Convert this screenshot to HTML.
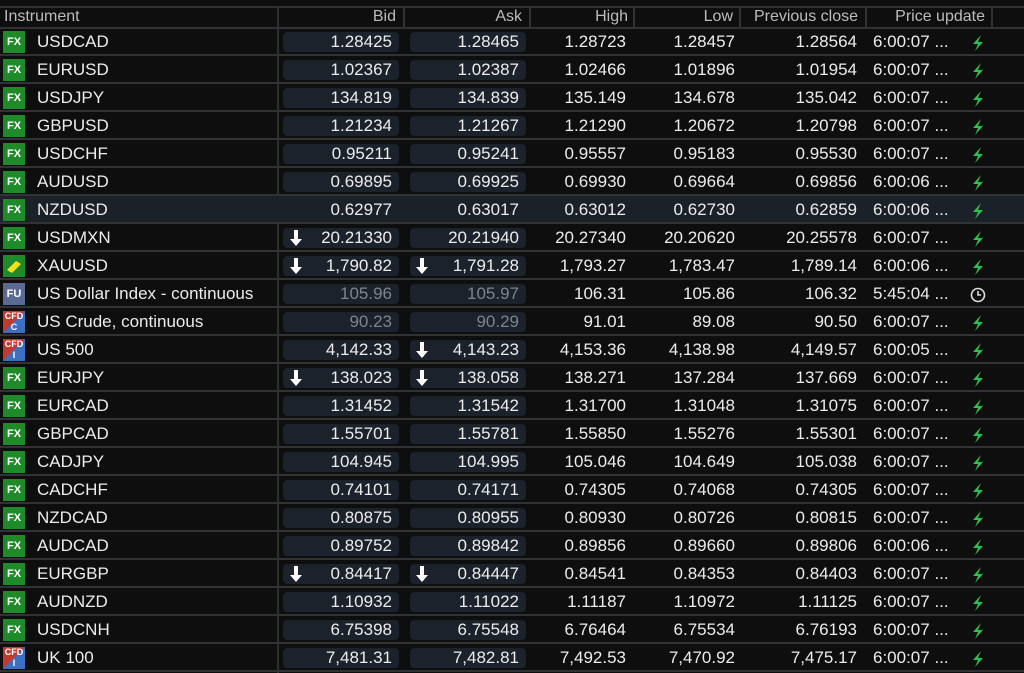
<!DOCTYPE html>
<html><head><meta charset="utf-8"><style>
*{margin:0;padding:0;box-sizing:border-box}
body{width:1024px;height:673px;background:#0e0e0f;overflow:hidden;font-family:"Liberation Sans",sans-serif;color:#ececec;position:relative}
.hdr{position:absolute;left:0;top:6px;width:1024px;height:23px;border-top:2px solid #303236;border-bottom:2px solid #303236;font-size:16px;color:#bcbcbc}
.hdr span{position:absolute;top:0px}
.hs{position:absolute;top:0;width:2px;height:19px;background:#303236}
.vl{position:absolute;left:277px;top:6px;width:2px;height:667px;background:#2c2e32}
.r{position:absolute;left:0;width:1024px;height:28px;border-bottom:2px solid #303236;font-size:17px}
.r.sel{background:#1b2129}
.r span{position:absolute;top:4px;white-space:nowrap}
.ic{position:absolute;left:3px;top:3px;width:22px;height:22px;font-size:11px;font-weight:bold;text-align:center;line-height:22px;color:#fff}
.fx{background:#1f8a2a}
.fu{background:#5a6a90}
.cfd{background:linear-gradient(135deg,#c23a2e 50%,#3d6fc0 50%);font-size:9px;line-height:11px}
.au{background:#1f8a2a}
.nm{left:37px}
.box{position:absolute;top:4px;height:20px;background:#1b222b;border-radius:4px}
.b1{left:283px;width:116px}.b2{left:410px;width:116px}
.sel .box{background:transparent}
.v1{right:632px}.v2{right:505px}.v3{right:398px}.v4{right:289px}.v5{right:167px}.tm{left:873px}
.dim{color:#7d848c}
.ar{position:absolute;top:6px}
.a1{left:289px}.a2{left:415px}
.bolt{position:absolute;left:971px;top:7px}
</style></head><body>
<svg width="0" height="0" style="position:absolute"><defs>
<symbol id="dn" viewBox="0 0 14 16"><path d="M5 0h4v9h4l-6 7-6-7h4z" fill="#fff"/></symbol>
<symbol id="bt" viewBox="0 0 14 16"><path d="M10 0L2 9h5l-3 7 8-9H7z" fill="#2fbf4a"/></symbol>
</defs></svg>
<div class="hdr">
<span style="left:4px">Instrument</span>
<span style="right:628px">Bid</span><span style="right:502px">Ask</span><span style="right:396px">High</span><span style="right:291px">Low</span><span style="right:166px">Previous close</span><span style="right:39px">Price update</span>
<div class="hs" style="left:403px"></div><div class="hs" style="left:529px"></div><div class="hs" style="left:633px"></div><div class="hs" style="left:739px"></div><div class="hs" style="left:865px"></div><div class="hs" style="left:991px"></div>
</div>
<div class="vl"></div>

<div class="r" style="top:28px"><div class="ic fx">FX</div><span class="nm">USDCAD</span><div class="box b1"></div><div class="box b2"></div><span class="v1">1.28425</span><span class="v2">1.28465</span><span class="v3">1.28723</span><span class="v4">1.28457</span><span class="v5">1.28564</span><span class="tm">6:00:07 ...</span><svg class="bolt" width="14" height="16"><use href="#bt"/></svg></div>
<div class="r" style="top:56px"><div class="ic fx">FX</div><span class="nm">EURUSD</span><div class="box b1"></div><div class="box b2"></div><span class="v1">1.02367</span><span class="v2">1.02387</span><span class="v3">1.02466</span><span class="v4">1.01896</span><span class="v5">1.01954</span><span class="tm">6:00:07 ...</span><svg class="bolt" width="14" height="16"><use href="#bt"/></svg></div>
<div class="r" style="top:84px"><div class="ic fx">FX</div><span class="nm">USDJPY</span><div class="box b1"></div><div class="box b2"></div><span class="v1">134.819</span><span class="v2">134.839</span><span class="v3">135.149</span><span class="v4">134.678</span><span class="v5">135.042</span><span class="tm">6:00:07 ...</span><svg class="bolt" width="14" height="16"><use href="#bt"/></svg></div>
<div class="r" style="top:112px"><div class="ic fx">FX</div><span class="nm">GBPUSD</span><div class="box b1"></div><div class="box b2"></div><span class="v1">1.21234</span><span class="v2">1.21267</span><span class="v3">1.21290</span><span class="v4">1.20672</span><span class="v5">1.20798</span><span class="tm">6:00:07 ...</span><svg class="bolt" width="14" height="16"><use href="#bt"/></svg></div>
<div class="r" style="top:140px"><div class="ic fx">FX</div><span class="nm">USDCHF</span><div class="box b1"></div><div class="box b2"></div><span class="v1">0.95211</span><span class="v2">0.95241</span><span class="v3">0.95557</span><span class="v4">0.95183</span><span class="v5">0.95530</span><span class="tm">6:00:07 ...</span><svg class="bolt" width="14" height="16"><use href="#bt"/></svg></div>
<div class="r" style="top:168px"><div class="ic fx">FX</div><span class="nm">AUDUSD</span><div class="box b1"></div><div class="box b2"></div><span class="v1">0.69895</span><span class="v2">0.69925</span><span class="v3">0.69930</span><span class="v4">0.69664</span><span class="v5">0.69856</span><span class="tm">6:00:06 ...</span><svg class="bolt" width="14" height="16"><use href="#bt"/></svg></div>
<div class="r sel" style="top:196px"><div class="ic fx">FX</div><span class="nm">NZDUSD</span><div class="box b1"></div><div class="box b2"></div><span class="v1">0.62977</span><span class="v2">0.63017</span><span class="v3">0.63012</span><span class="v4">0.62730</span><span class="v5">0.62859</span><span class="tm">6:00:06 ...</span><svg class="bolt" width="14" height="16"><use href="#bt"/></svg></div>
<div class="r" style="top:224px"><div class="ic fx">FX</div><span class="nm">USDMXN</span><div class="box b1"></div><div class="box b2"></div><svg class="ar a1" width="14" height="16"><use href="#dn"/></svg><span class="v1">20.21330</span><span class="v2">20.21940</span><span class="v3">20.27340</span><span class="v4">20.20620</span><span class="v5">20.25578</span><span class="tm">6:00:07 ...</span><svg class="bolt" width="14" height="16"><use href="#bt"/></svg></div>
<div class="r" style="top:252px"><div class="ic au"><svg width="22" height="22"><path d="M4 15l9-9 5 3-9 9z" fill="#f2e21c"/></svg></div><span class="nm">XAUUSD</span><div class="box b1"></div><div class="box b2"></div><svg class="ar a1" width="14" height="16"><use href="#dn"/></svg><svg class="ar a2" width="14" height="16"><use href="#dn"/></svg><span class="v1">1,790.82</span><span class="v2">1,791.28</span><span class="v3">1,793.27</span><span class="v4">1,783.47</span><span class="v5">1,789.14</span><span class="tm">6:00:06 ...</span><svg class="bolt" width="14" height="16"><use href="#bt"/></svg></div>
<div class="r" style="top:280px"><div class="ic fu">FU</div><span class="nm">US Dollar Index - continuous</span><div class="box b1"></div><div class="box b2"></div><span class="v1 dim">105.96</span><span class="v2 dim">105.97</span><span class="v3">106.31</span><span class="v4">105.86</span><span class="v5">106.32</span><span class="tm">5:45:04 ...</span><svg class="bolt" width="16" height="16" viewBox="0 0 16 16" style="left:970px"><circle cx="8" cy="8" r="6.5" fill="none" stroke="#ddd" stroke-width="1.6"/><path d="M8 4v4h3" fill="none" stroke="#ddd" stroke-width="1.6"/></svg></div>
<div class="r" style="top:308px"><div class="ic cfd">CFD<br>C</div><span class="nm">US Crude, continuous</span><div class="box b1"></div><div class="box b2"></div><span class="v1 dim">90.23</span><span class="v2 dim">90.29</span><span class="v3">91.01</span><span class="v4">89.08</span><span class="v5">90.50</span><span class="tm">6:00:07 ...</span><svg class="bolt" width="14" height="16"><use href="#bt"/></svg></div>
<div class="r" style="top:336px"><div class="ic cfd">CFD<br>I</div><span class="nm">US 500</span><div class="box b1"></div><div class="box b2"></div><svg class="ar a2" width="14" height="16"><use href="#dn"/></svg><span class="v1">4,142.33</span><span class="v2">4,143.23</span><span class="v3">4,153.36</span><span class="v4">4,138.98</span><span class="v5">4,149.57</span><span class="tm">6:00:05 ...</span><svg class="bolt" width="14" height="16"><use href="#bt"/></svg></div>
<div class="r" style="top:364px"><div class="ic fx">FX</div><span class="nm">EURJPY</span><div class="box b1"></div><div class="box b2"></div><svg class="ar a1" width="14" height="16"><use href="#dn"/></svg><svg class="ar a2" width="14" height="16"><use href="#dn"/></svg><span class="v1">138.023</span><span class="v2">138.058</span><span class="v3">138.271</span><span class="v4">137.284</span><span class="v5">137.669</span><span class="tm">6:00:07 ...</span><svg class="bolt" width="14" height="16"><use href="#bt"/></svg></div>
<div class="r" style="top:392px"><div class="ic fx">FX</div><span class="nm">EURCAD</span><div class="box b1"></div><div class="box b2"></div><span class="v1">1.31452</span><span class="v2">1.31542</span><span class="v3">1.31700</span><span class="v4">1.31048</span><span class="v5">1.31075</span><span class="tm">6:00:07 ...</span><svg class="bolt" width="14" height="16"><use href="#bt"/></svg></div>
<div class="r" style="top:420px"><div class="ic fx">FX</div><span class="nm">GBPCAD</span><div class="box b1"></div><div class="box b2"></div><span class="v1">1.55701</span><span class="v2">1.55781</span><span class="v3">1.55850</span><span class="v4">1.55276</span><span class="v5">1.55301</span><span class="tm">6:00:07 ...</span><svg class="bolt" width="14" height="16"><use href="#bt"/></svg></div>
<div class="r" style="top:448px"><div class="ic fx">FX</div><span class="nm">CADJPY</span><div class="box b1"></div><div class="box b2"></div><span class="v1">104.945</span><span class="v2">104.995</span><span class="v3">105.046</span><span class="v4">104.649</span><span class="v5">105.038</span><span class="tm">6:00:07 ...</span><svg class="bolt" width="14" height="16"><use href="#bt"/></svg></div>
<div class="r" style="top:476px"><div class="ic fx">FX</div><span class="nm">CADCHF</span><div class="box b1"></div><div class="box b2"></div><span class="v1">0.74101</span><span class="v2">0.74171</span><span class="v3">0.74305</span><span class="v4">0.74068</span><span class="v5">0.74305</span><span class="tm">6:00:07 ...</span><svg class="bolt" width="14" height="16"><use href="#bt"/></svg></div>
<div class="r" style="top:504px"><div class="ic fx">FX</div><span class="nm">NZDCAD</span><div class="box b1"></div><div class="box b2"></div><span class="v1">0.80875</span><span class="v2">0.80955</span><span class="v3">0.80930</span><span class="v4">0.80726</span><span class="v5">0.80815</span><span class="tm">6:00:07 ...</span><svg class="bolt" width="14" height="16"><use href="#bt"/></svg></div>
<div class="r" style="top:532px"><div class="ic fx">FX</div><span class="nm">AUDCAD</span><div class="box b1"></div><div class="box b2"></div><span class="v1">0.89752</span><span class="v2">0.89842</span><span class="v3">0.89856</span><span class="v4">0.89660</span><span class="v5">0.89806</span><span class="tm">6:00:06 ...</span><svg class="bolt" width="14" height="16"><use href="#bt"/></svg></div>
<div class="r" style="top:560px"><div class="ic fx">FX</div><span class="nm">EURGBP</span><div class="box b1"></div><div class="box b2"></div><svg class="ar a1" width="14" height="16"><use href="#dn"/></svg><svg class="ar a2" width="14" height="16"><use href="#dn"/></svg><span class="v1">0.84417</span><span class="v2">0.84447</span><span class="v3">0.84541</span><span class="v4">0.84353</span><span class="v5">0.84403</span><span class="tm">6:00:07 ...</span><svg class="bolt" width="14" height="16"><use href="#bt"/></svg></div>
<div class="r" style="top:588px"><div class="ic fx">FX</div><span class="nm">AUDNZD</span><div class="box b1"></div><div class="box b2"></div><span class="v1">1.10932</span><span class="v2">1.11022</span><span class="v3">1.11187</span><span class="v4">1.10972</span><span class="v5">1.11125</span><span class="tm">6:00:07 ...</span><svg class="bolt" width="14" height="16"><use href="#bt"/></svg></div>
<div class="r" style="top:616px"><div class="ic fx">FX</div><span class="nm">USDCNH</span><div class="box b1"></div><div class="box b2"></div><span class="v1">6.75398</span><span class="v2">6.75548</span><span class="v3">6.76464</span><span class="v4">6.75534</span><span class="v5">6.76193</span><span class="tm">6:00:07 ...</span><svg class="bolt" width="14" height="16"><use href="#bt"/></svg></div>
<div class="r" style="top:644px"><div class="ic cfd">CFD<br>I</div><span class="nm">UK 100</span><div class="box b1"></div><div class="box b2"></div><span class="v1">7,481.31</span><span class="v2">7,482.81</span><span class="v3">7,492.53</span><span class="v4">7,470.92</span><span class="v5">7,475.17</span><span class="tm">6:00:07 ...</span><svg class="bolt" width="14" height="16"><use href="#bt"/></svg></div>
</body></html>
